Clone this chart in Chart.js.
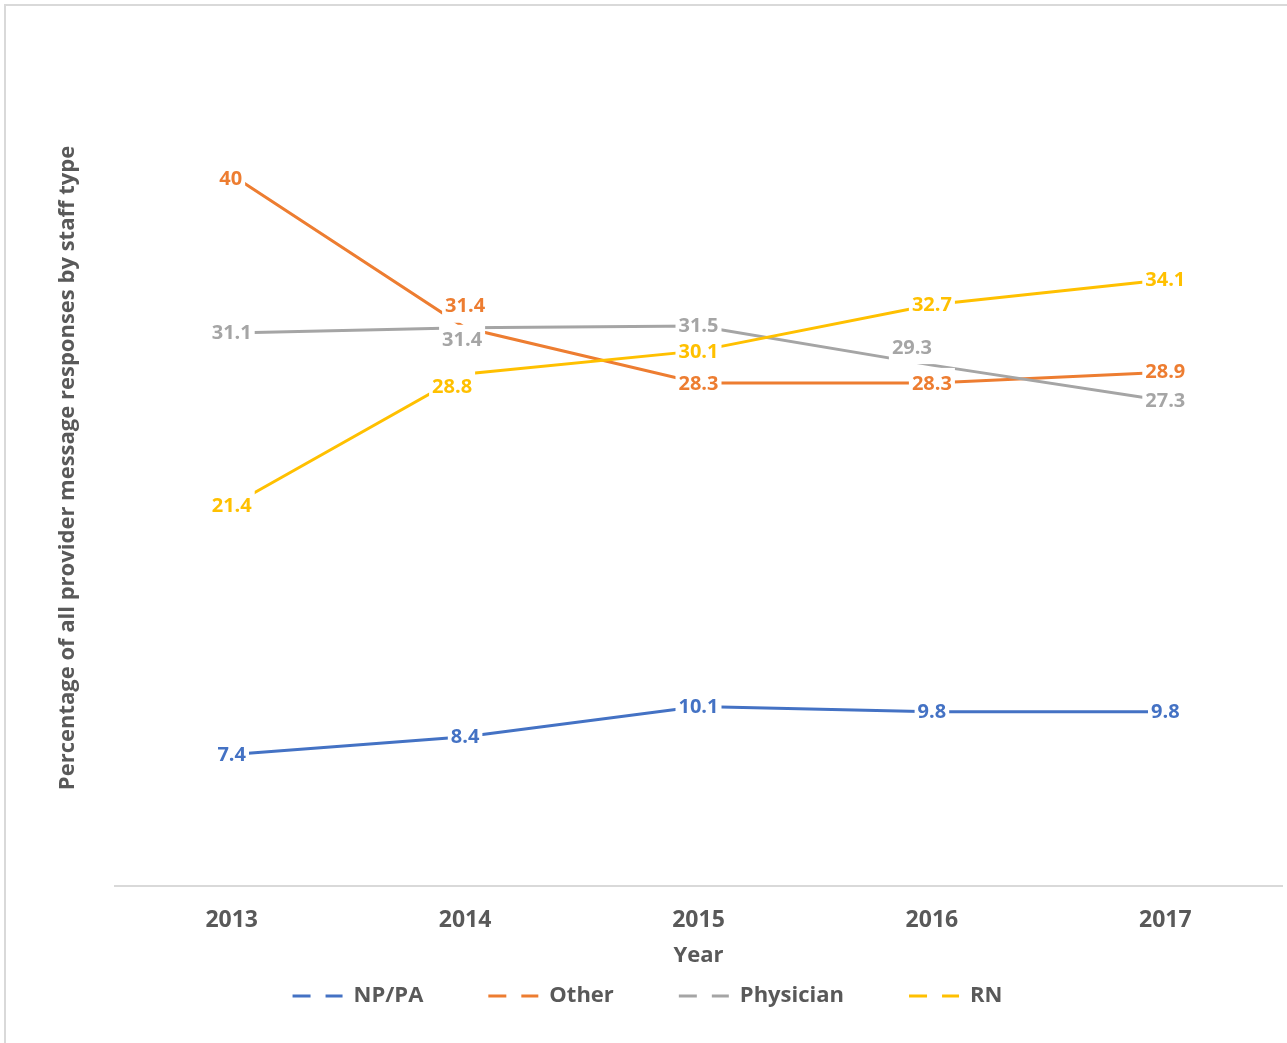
<!DOCTYPE html>
<html>
<head>
<meta charset="utf-8">
<script src="https://cdn.jsdelivr.net/npm/chart.js@4.4.1/dist/chart.umd.min.js"></script>
<style>
  html, body { margin: 0; padding: 0; background: #ffffff; }
  #wrap { position: relative; width: 1287px; height: 1043px; }
</style>
</head>
<body>
<div id="wrap"><canvas id="c"></canvas></div>
<script>
// ---- data ----
const categories = ['2013', '2014', '2015', '2016', '2017'];
const seriesNames = ['NP/PA', 'Other', 'Physician', 'RN'];
const npPaValues = [7.4, 8.4, 10.1, 9.8, 9.8];
const otherValues = [40, 31.4, 28.3, 28.3, 28.9];
const physicianValues = [31.1, 31.4, 31.5, 29.3, 27.3];
const rnValues = [21.4, 28.8, 30.1, 32.7, 34.1];
const yAxisMin = 0;
const yAxisMax = 45;
const xAxisTitle = 'Year';
const yAxisTitle = 'Percentage of all provider message responses by staff type';

// ---- styles ----
const colors = ['#4472C4', '#ED7D31', '#A5A5A5', '#FFC000'];
const textGray = '#595959';
const FONT = "'Open Sans', 'Liberation Sans', sans-serif";
// label position shifts (pixels) relative to each point
const labelShifts = [
  [[0, 1], [0, 1], [0, 1], [0, 1], [0, 1]],
  [[-1, 4], [0, -21], [0, 1], [0, 1], [0, 0]],
  [[0, 0], [-3, 13], [0, 0], [-20, -17], [0, 1]],
  [[0, 1], [-13, 13], [0, 1], [0, 1], [0, 1]]
];

const valueSets = [npPaValues, otherValues, physicianValues, rnValues];

const datasets = valueSets.map((vals, i) => ({
  label: seriesNames[i],
  data: vals,
  borderColor: colors[i],
  backgroundColor: colors[i],
  borderWidth: 3,
  pointRadius: 0,
  pointHoverRadius: 0,
  tension: 0,
  fill: false,
  order: valueSets.length - i
}));

const frameBorder = {
  id: 'frameBorder',
  beforeDraw(chart) {
    const ctx = chart.ctx;
    ctx.save();
    ctx.fillStyle = '#ffffff';
    ctx.fillRect(0, 0, chart.width, chart.height);
    ctx.fillStyle = '#d9d9d9';
    ctx.fillRect(4, 4, chart.width - 4, 2);
    ctx.fillRect(4, 4, 2, chart.height - 4);
    ctx.restore();
  }
};

const yTitle = {
  id: 'yTitle',
  afterDraw(chart) {
    const ctx = chart.ctx;
    ctx.save();
    ctx.translate(68, 468);
    ctx.rotate(-Math.PI / 2);
    ctx.font = 'bold 22px ' + FONT;
    ctx.fillStyle = textGray;
    ctx.textAlign = 'center';
    ctx.textBaseline = 'middle';
    ctx.fillText(yAxisTitle, 0, 0);
    ctx.restore();
  }
};

const pointLabels = {
  id: 'pointLabels',
  afterDatasetsDraw(chart) {
    const ctx = chart.ctx;
    const items = [];
    ctx.save();
    ctx.font = 'bold 20px ' + FONT;
    chart.data.datasets.forEach((ds, i) => {
      const meta = chart.getDatasetMeta(i);
      if (meta.hidden) return;
      meta.data.forEach((el, j) => {
        const sh = labelShifts[i][j];
        const text = String(ds.data[j]);
        const w = ctx.measureText(text).width;
        items.push({ x: el.x + sh[0], y: el.y + sh[1], text, w, color: ds.borderColor });
      });
    });
    ctx.fillStyle = '#ffffff';
    items.forEach(it => {
      ctx.fillRect(it.x - it.w / 2 - 3, it.y - 16, it.w + 6, 32);
    });
    ctx.textAlign = 'center';
    ctx.textBaseline = 'middle';
    items.forEach(it => {
      ctx.fillStyle = it.color;
      ctx.fillText(it.text, it.x, it.y);
    });
    ctx.restore();
  }
};

new Chart(document.getElementById('c'), {
  type: 'line',
  data: { labels: categories, datasets },
  plugins: [frameBorder, pointLabels, yTitle],
  options: {
    responsive: true,
    maintainAspectRatio: false,
    animation: false,
    events: [],
    layout: { padding: { left: 13, right: 5, top: 86, bottom: 26 } },
    scales: {
      x: {
        type: 'category',
        offset: true,
        grid: { display: false, drawTicks: false },
        border: { display: true, color: '#d9d9d9', width: 2 },
        ticks: { color: textGray, font: { family: FONT, size: 23, weight: 'bold' }, padding: 20.2 },
        title: {
          display: true, text: xAxisTitle, color: textGray,
          font: { family: FONT, size: 22, weight: 'bold' },
          padding: { top: -11.2, bottom: 0 }
        }
      },
      y: {
        min: yAxisMin, max: yAxisMax,
        grid: { display: false, drawTicks: false },
        border: { display: false },
        ticks: { display: false },
        title: { display: false },
        afterFit(scale) { scale.width = 102; }
      }
    },
    plugins: {
      tooltip: { enabled: false },
      legend: {
        display: true,
        position: 'bottom',
        title: { display: true, text: '', font: { size: 10 }, padding: { top: 0, bottom: -61.2 } },
        labels: {
          usePointStyle: true,
          pointStyleWidth: 50,
          padding: 65,
          color: textGray,
          font: { family: FONT, size: 22, weight: 'bold' },
          generateLabels(chart) {
            return chart.data.datasets.map((ds, i) => ({
              text: ds.label,
              fillStyle: 'rgba(0,0,0,0)',
              strokeStyle: ds.borderColor,
              lineWidth: 3,
              lineDash: [18, 15],
              pointStyle: 'line',
              hidden: !chart.isDatasetVisible(i),
              datasetIndex: i,
              fontColor: textGray
            }));
          }
        }
      }
    }
  }
});
</script>
</body>
</html>
